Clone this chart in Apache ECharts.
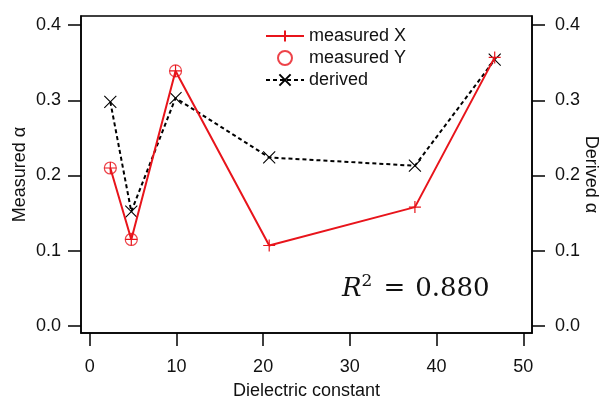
<!DOCTYPE html>
<html>
<head>
<meta charset="utf-8">
<script src="https://cdn.jsdelivr.net/npm/echarts@6/dist/echarts.min.js"></script>
<style>
  html, body { margin: 0; padding: 0; background: #fff; }
  #chart { width: 605px; height: 400px; }
</style>
</head>
<body>
<div id="chart"></div>
<script>
// dielectric constants of the solvents (x)
const dielectric = [2.38, 4.8, 9.9, 20.7, 37.5, 46.7];
const measuredX = [0.210, 0.115, 0.339, 0.107, 0.158, 0.357];
const measuredY = [0.210, 0.115, 0.339]; // only first three solvents
const derived = [0.298, 0.152, 0.303, 0.224, 0.213, 0.354];
const xTicks = [0, 10, 20, 30, 40, 50];
const yTicks = [0, 0.1, 0.2, 0.3, 0.4];
const r2Text = "0.880";

const font = "Liberation Sans, Arial, sans-serif";
const red = "#e8141b";
const plusPath = "path://M0,5L10,5M5,0L5,10";
const crossPath = "path://M0,0L10,10M10,0L0,10";

function pairs(xs, ys) {
  return ys.map((y, i) => [xs[i], y]);
}

const yAxisBase = {
  type: "value",
  min: -0.0093,
  max: 0.412,
  nameLocation: "middle",
  nameMoveOverlap: false,
  nameTextStyle: { fontSize: 18, fontFamily: font, color: "#111" },
  axisLine: { show: true, onZero: false, lineStyle: { color: "#000", width: 1.5 } },
  axisTick: { show: true, inside: false, length: 13, customValues: yTicks, lineStyle: { color: "#000", width: 1.5 } },
  axisLabel: {
    customValues: yTicks,
    fontSize: 18,
    fontFamily: font,
    color: "#111",
    formatter: (v) => v.toFixed(1),
  },
  splitLine: { show: false },
};

const chart = echarts.init(document.getElementById("chart"));
chart.setOption({
  animation: false,
  backgroundColor: "#fff",
  grid: {
    left: 81, right: 73, top: 16, bottom: 67,
    show: true, borderColor: "#000", borderWidth: 1.5,
    outerBoundsMode: "none",
  },
  legend: {
    orient: "vertical",
    left: 260,
    top: 22,
    itemWidth: 38,
    itemHeight: 14,
    itemGap: 4,
    data: ["measured X", "measured Y", "derived"],
    textStyle: { fontSize: 18, fontFamily: font, color: "#111" },
  },
  xAxis: {
    type: "value",
    min: -1,
    max: 51,
    name: "Dielectric constant",
    nameLocation: "middle",
    nameMoveOverlap: false,
    nameGap: 49,
    nameTextStyle: { fontSize: 18, fontFamily: font, color: "#111" },
    axisLine: { show: true, onZero: false, lineStyle: { color: "#000", width: 1.5 } },
    axisTick: { show: true, length: 13, customValues: xTicks, lineStyle: { color: "#000", width: 1.5 } },
    axisLabel: { customValues: xTicks, margin: 25, fontSize: 18, fontFamily: font, color: "#111" },
    splitLine: { show: false },
  },
  yAxis: [
    Object.assign({}, yAxisBase, {
      position: "left",
      name: "Measured α",
      nameGap: 52,
      nameRotate: 90,
      axisLabel: Object.assign({}, yAxisBase.axisLabel, { margin: 20 }),
    }),
    Object.assign({}, yAxisBase, {
      position: "right",
      name: "Derived α",
      nameGap: 50,
      nameRotate: -90,
      axisLabel: Object.assign({}, yAxisBase.axisLabel, { margin: 23 }),
    }),
  ],
  series: [
    {
      name: "measured Y",
      type: "scatter",
      yAxisIndex: 0,
      symbol: "circle",
      symbolSize: 12,
      itemStyle: { color: "rgba(0,0,0,0)", borderColor: red, borderWidth: 1.2 },
      data: pairs(dielectric, measuredY),
      z: 2,
    },
    {
      name: "derived",
      type: "line",
      yAxisIndex: 1,
      symbol: crossPath,
      symbolSize: 12,
      itemStyle: { color: "#000", borderColor: "#000", borderWidth: 1.1 },
      lineStyle: { color: "#000", width: 2, type: [4, 3] },
      data: pairs(dielectric, derived),
      z: 3,
    },
    {
      name: "measured X",
      type: "line",
      yAxisIndex: 0,
      symbol: plusPath,
      symbolSize: 12,
      itemStyle: { color: red, borderColor: red, borderWidth: 1.2 },
      lineStyle: { color: red, width: 2 },
      data: pairs(dielectric, measuredX),
      z: 4,
    },
  ],
  graphic: [
    {
      type: "text",
      left: 342,
      top: 273,
      style: {
        text: "{r|R}{s|2}{eq|=}{n|" + r2Text + "}",
        rich: {
          r: { fontFamily: "DejaVu Serif", fontStyle: "italic", fontSize: 26, lineHeight: 32, fill: "#111" },
          s: { fontFamily: "DejaVu Serif", fontSize: 17, verticalAlign: "top", lineHeight: 24, fill: "#111" },
          eq: { fontFamily: "DejaVu Serif", fontSize: 26, lineHeight: 32, padding: [0, 10, 0, 11], fill: "#111" },
          n: { fontFamily: "DejaVu Serif", fontSize: 26, lineHeight: 32, fill: "#111" },
        },
      },
    },
  ],
});
</script>
</body>
</html>
